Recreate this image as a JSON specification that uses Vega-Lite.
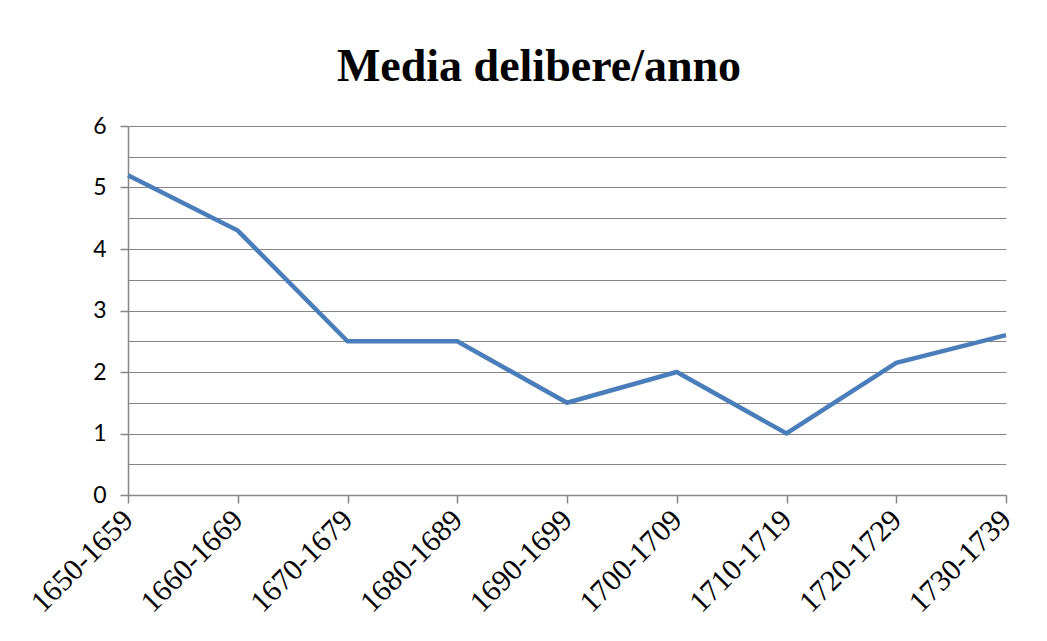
{
  "$schema": "https://vega.github.io/schema/vega-lite/v6.json",
  "width": 878,
  "height": 369,
  "autosize": {"type": "none"},
  "padding": {"left": 128, "top": 126, "right": 41, "bottom": 146},
  "background": "white",
  "title": {
    "text": "Media delibere/anno",
    "font": "Liberation Serif",
    "fontSize": 46,
    "fontWeight": "bold",
    "color": "#000000",
    "anchor": "middle",
    "dx": -28,
    "offset": 24
  },
  "data": {
    "values": [
      {"periodo": "1650-1659", "media": 5.2},
      {"periodo": "1660-1669", "media": 4.3},
      {"periodo": "1670-1679", "media": 2.5},
      {"periodo": "1680-1689", "media": 2.5},
      {"periodo": "1690-1699", "media": 1.5},
      {"periodo": "1700-1709", "media": 2.0},
      {"periodo": "1710-1719", "media": 1.0},
      {"periodo": "1720-1729", "media": 2.15},
      {"periodo": "1730-1739", "media": 2.6}
    ]
  },
  "mark": {"type": "line", "color": "#4A7EBB", "strokeWidth": 4.5, "strokeJoin": "miter"},
  "encoding": {
    "x": {
      "field": "periodo",
      "type": "ordinal",
      "scale": {"type": "point", "padding": 0},
      "sort": null,
      "axis": {
        "title": null,
        "labelAngle": -45,
        "labelAlign": "right",
        "labelBaseline": "middle",
        "labelFont": "Liberation Serif",
        "labelFontSize": 30,
        "labelColor": "#000000",
        "labelPadding": 12,
        "labelLimit": 300,
        "labelOverlap": false,
        "domainColor": "#868686",
        "domainWidth": 1.5,
        "tickColor": "#868686",
        "tickSize": 8,
        "tickWidth": 1.5,
        "grid": false
      }
    },
    "y": {
      "field": "media",
      "type": "quantitative",
      "scale": {"domain": [0, 6], "nice": false, "zero": true},
      "axis": {
        "title": null,
        "values": [0, 0.5, 1, 1.5, 2, 2.5, 3, 3.5, 4, 4.5, 5, 5.5, 6],
        "labelExpr": "datum.value % 1 === 0 ? format(datum.value, 'd') : ''",
        "labelFont": "Lato",
        "labelFontSize": 23,
        "labelColor": "#000000",
        "labelPadding": 14,
        "labelOverlap": false,
        "domainColor": "#868686",
        "domainWidth": 1.5,
        "tickColor": "#868686",
        "tickSize": 8,
        "tickWidth": 1.5,
        "tickOpacity": {"condition": {"test": "datum.value % 1 !== 0", "value": 0}, "value": 1},
        "grid": true,
        "gridColor": "#868686",
        "gridWidth": 1.2
      }
    }
  },
  "config": {"view": {"stroke": null}}
}
